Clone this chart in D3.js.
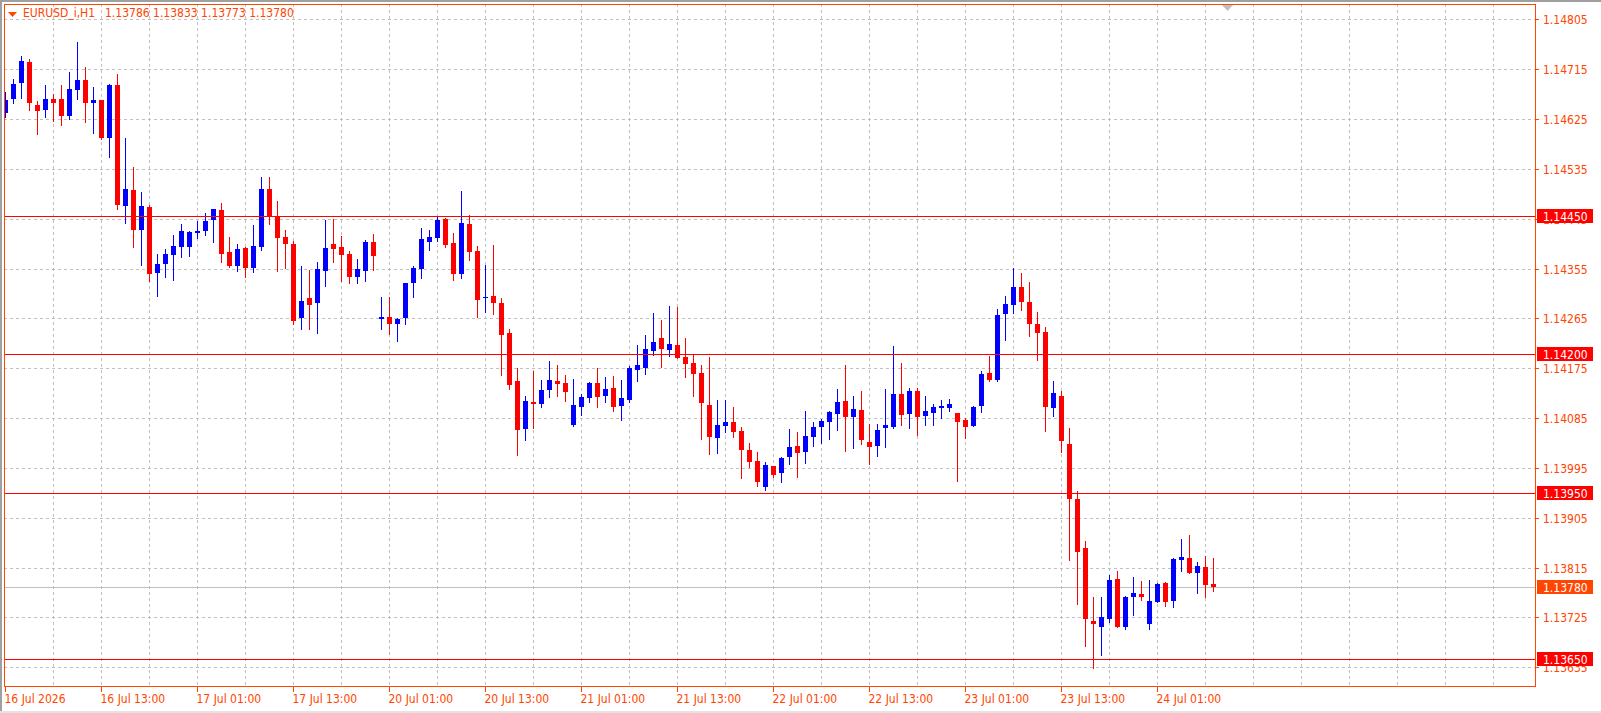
<!DOCTYPE html>
<html>
<head>
<meta charset="utf-8">
<script src="https://cdn.jsdelivr.net/npm/d3@7"></script>
<style>
  body { margin: 0; background: #fff; }
  text { font-family: "DejaVu Sans Condensed", "DejaVu Sans", sans-serif; font-size: 12px; }
</style>
</head>
<body>
<div id="chart"></div>
<script>
// EURUSD_i H1 bars, 16 Jul 01:00 .. 24 Jul 08:00
var opens = [
  1.14636, 1.14661, 1.14690, 1.14728, 1.14650, 1.14642, 1.14661, 1.14661, 1.14631, 1.14678,
  1.14695, 1.14653, 1.14659, 1.14591, 1.14686, 1.14468, 1.14497, 1.14425, 1.14466, 1.14347,
  1.14364, 1.14380, 1.14394, 1.14394, 1.14420, 1.14423, 1.14443, 1.14461, 1.14385, 1.14360,
  1.14392, 1.14356, 1.14394, 1.14499, 1.14450, 1.14412, 1.14400, 1.14266, 1.14302, 1.14293,
  1.14351, 1.14399, 1.14394, 1.14381, 1.14340, 1.14351, 1.14403, 1.14263, 1.14267, 1.14254,
  1.14266, 1.14328, 1.14355, 1.14403, 1.14411, 1.14444, 1.14401, 1.14346, 1.14435, 1.14387,
  1.14301, 1.14305, 1.14293, 1.14239, 1.14152, 1.14065, 1.14114, 1.14110, 1.14136, 1.14152,
  1.14148, 1.14072, 1.14105, 1.14121, 1.14148, 1.14125, 1.14139, 1.14107, 1.14118, 1.14172,
  1.14175, 1.14206, 1.14230, 1.14208, 1.14217, 1.14195, 1.14184, 1.14166, 1.14109, 1.14049,
  1.14071, 1.14078, 1.14062, 1.14027, 1.14007, 1.13961, 1.13998, 1.13986, 1.14015, 1.14035,
  1.14024, 1.14051, 1.14069, 1.14078, 1.14092, 1.14116, 1.14087, 1.14100, 1.14042, 1.14035,
  1.14067, 1.14069, 1.14128, 1.14092, 1.14134, 1.14089, 1.14094, 1.14103, 1.14103, 1.14094,
  1.14081, 1.14071, 1.14107, 1.14166, 1.14154, 1.14272, 1.14290, 1.14322, 1.14295, 1.14255,
  1.14240, 1.14104, 1.14125, 1.14038, 1.13939, 1.13850, 1.13719, 1.13708, 1.13723, 1.13794,
  1.13708, 1.13761, 1.13767, 1.13714, 1.13753, 1.13787, 1.13755, 1.13829, 1.13832, 1.13806,
  1.13816, 1.13786
];
var highs = [
  1.14674, 1.14697, 1.14739, 1.14733, 1.14658, 1.14686, 1.14670, 1.14686, 1.14709, 1.14764,
  1.14718, 1.14683, 1.14660, 1.14688, 1.14706, 1.14591, 1.14538, 1.14493, 1.14470, 1.14381,
  1.14390, 1.14416, 1.14435, 1.14423, 1.14441, 1.14455, 1.14463, 1.14473, 1.14412, 1.14400,
  1.14393, 1.14434, 1.14520, 1.14520, 1.14477, 1.14425, 1.14405, 1.14359, 1.14352, 1.14367,
  1.14443, 1.14444, 1.14414, 1.14387, 1.14372, 1.14406, 1.14417, 1.14304, 1.14304, 1.14266,
  1.14329, 1.14360, 1.14428, 1.14425, 1.14450, 1.14446, 1.14419, 1.14495, 1.14452, 1.14396,
  1.14361, 1.14397, 1.14302, 1.14246, 1.14175, 1.14125, 1.14170, 1.14154, 1.14188, 1.14181,
  1.14163, 1.14156, 1.14128, 1.14150, 1.14175, 1.14159, 1.14161, 1.14154, 1.14179, 1.14217,
  1.14235, 1.14275, 1.14262, 1.14287, 1.14286, 1.14230, 1.14199, 1.14181, 1.14195, 1.14118,
  1.14118, 1.14105, 1.14069, 1.14040, 1.14024, 1.14006, 1.13999, 1.14015, 1.14065, 1.14060,
  1.14098, 1.14078, 1.14083, 1.14097, 1.14137, 1.14181, 1.14125, 1.14134, 1.14074, 1.14074,
  1.14137, 1.14215, 1.14184, 1.14139, 1.14139, 1.14125, 1.14110, 1.14118, 1.14119, 1.14095,
  1.14085, 1.14107, 1.14170, 1.14197, 1.14282, 1.14305, 1.14356, 1.14347, 1.14331, 1.14276,
  1.14249, 1.14152, 1.14134, 1.14067, 1.13953, 1.13863, 1.13761, 1.13761, 1.13802, 1.13809,
  1.13764, 1.13798, 1.13791, 1.13793, 1.13787, 1.13789, 1.13832, 1.13867, 1.13874, 1.13825,
  1.13836, 1.13833
];
var lows = [
  1.14629, 1.14654, 1.14663, 1.14642, 1.14597, 1.14629, 1.14622, 1.14615, 1.14625, 1.14661,
  1.14620, 1.14600, 1.14588, 1.14557, 1.14463, 1.14438, 1.14393, 1.14362, 1.14333, 1.14306,
  1.14340, 1.14335, 1.14376, 1.14378, 1.14411, 1.14416, 1.14403, 1.14366, 1.14358, 1.14351,
  1.14340, 1.14349, 1.14389, 1.14436, 1.14351, 1.14356, 1.14255, 1.14245, 1.14245, 1.14239,
  1.14324, 1.14367, 1.14332, 1.14328, 1.14329, 1.14333, 1.14353, 1.14246, 1.14237, 1.14225,
  1.14255, 1.14304, 1.14338, 1.14389, 1.14405, 1.14393, 1.14335, 1.14338, 1.14371, 1.14268,
  1.14277, 1.14273, 1.14163, 1.14137, 1.14018, 1.14045, 1.14067, 1.14105, 1.14123, 1.14125,
  1.14116, 1.14071, 1.14091, 1.14114, 1.14105, 1.14114, 1.14098, 1.14081, 1.14114, 1.14152,
  1.14165, 1.14199, 1.14177, 1.14197, 1.14193, 1.14159, 1.14125, 1.14047, 1.14020, 1.14022,
  1.14060, 1.14051, 1.13977, 1.13997, 1.13962, 1.13955, 1.13979, 1.13970, 1.14002, 1.13979,
  1.14004, 1.14035, 1.14040, 1.14047, 1.14063, 1.14026, 1.14031, 1.14038, 1.14002, 1.14016,
  1.14033, 1.14067, 1.14072, 1.14067, 1.14054, 1.14072, 1.14072, 1.14085, 1.14098, 1.13971,
  1.14049, 1.14070, 1.14096, 1.14152, 1.14152, 1.14226, 1.14275, 1.14281, 1.14234, 1.14190,
  1.14062, 1.14089, 1.14024, 1.13829, 1.13750, 1.13674, 1.13634, 1.13658, 1.13717, 1.13708,
  1.13705, 1.13730, 1.13757, 1.13705, 1.13752, 1.13746, 1.13743, 1.13809, 1.13806, 1.13770,
  1.13761, 1.13773
];
var closes = [
  1.14659, 1.14688, 1.14730, 1.14653, 1.14640, 1.14661, 1.14654, 1.14631, 1.14679, 1.14695,
  1.14653, 1.14659, 1.14591, 1.14686, 1.14470, 1.14499, 1.14425, 1.14468, 1.14346, 1.14363,
  1.14381, 1.14396, 1.14423, 1.14421, 1.14423, 1.14441, 1.14462, 1.14382, 1.14360, 1.14390,
  1.14356, 1.14396, 1.14499, 1.14450, 1.14411, 1.14400, 1.14261, 1.14296, 1.14290, 1.14354,
  1.14392, 1.14391, 1.14380, 1.14340, 1.14354, 1.14403, 1.14378, 1.14267, 1.14254, 1.14264,
  1.14328, 1.14356, 1.14408, 1.14412, 1.14443, 1.14398, 1.14346, 1.14437, 1.14385, 1.14299,
  1.14304, 1.14293, 1.14235, 1.14145, 1.14063, 1.14116, 1.14110, 1.14136, 1.14154, 1.14146,
  1.14132, 1.14109, 1.14123, 1.14148, 1.14123, 1.14137, 1.14105, 1.14121, 1.14175, 1.14181,
  1.14210, 1.14222, 1.14210, 1.14219, 1.14193, 1.14183, 1.14165, 1.14112, 1.14051, 1.14072,
  1.14078, 1.14060, 1.14027, 1.14006, 1.13970, 1.14000, 1.13982, 1.14013, 1.14033, 1.14022,
  1.14053, 1.14069, 1.14080, 1.14096, 1.14114, 1.14087, 1.14101, 1.14045, 1.14033, 1.14063,
  1.14072, 1.14128, 1.14091, 1.14134, 1.14087, 1.14098, 1.14105, 1.14107, 1.14110, 1.14078,
  1.14069, 1.14105, 1.14165, 1.14154, 1.14271, 1.14291, 1.14322, 1.14295, 1.14254, 1.14239,
  1.14105, 1.14130, 1.14044, 1.13939, 1.13844, 1.13723, 1.13714, 1.13725, 1.13793, 1.13708,
  1.13762, 1.13769, 1.13761, 1.13755, 1.13785, 1.13753, 1.13831, 1.13834, 1.13806, 1.13818,
  1.13784, 1.13780
];

var priceTicks = [1.14805, 1.14715, 1.14625, 1.14535, 1.14445, 1.14355, 1.14265,
                  1.14175, 1.14085, 1.13995, 1.13905, 1.13815, 1.13725, 1.13635];
var levels = [1.14450, 1.14200, 1.13950, 1.13650];
var bidPrice = 1.13780;
var timeLabels = ["16 Jul 2026", "16 Jul 13:00", "17 Jul 01:00", "17 Jul 13:00", "20 Jul 01:00",
                  "20 Jul 13:00", "21 Jul 01:00", "21 Jul 13:00", "22 Jul 01:00", "22 Jul 13:00",
                  "23 Jul 01:00", "23 Jul 13:00", "24 Jul 01:00"];
var barsPerLabel = 12;
var barsPerGrid = 6;
var symbolName = "EURUSD_i,H1";

var svgWidth = 1601;
var svgHeight = 713;
var plot = {left: 4, top: 4, right: 1535, bottom: 687};

var fg = "#ff4500";
var bullColor = "#0000ff";
var bearColor = "#ff0000";
var gridColor = "#c0c0c0";

var svg = d3.select("#chart")
  .append("svg")
  .attr("width", svgWidth)
  .attr("height", svgHeight);

svg.append("rect")
  .attr("width", svgWidth)
  .attr("height", svgHeight)
  .attr("fill", "#fff");

// window edges
svg.append("rect").attr("x", 0).attr("y", 0).attr("width", svgWidth).attr("height", 2).attr("fill", "#a0a0a0");
svg.append("rect").attr("x", 0).attr("y", 0).attr("width", 2).attr("height", svgHeight).attr("fill", "#a0a0a0");
svg.append("rect").attr("x", 0).attr("y", 711).attr("width", svgWidth).attr("height", 2).attr("fill", "#e3e3e3");

// bar index -> x centre, 8px per bar
var xScale = d3.scaleLinear()
  .domain([0, opens.length - 1])
  .range([5.5, 5.5 + 8 * (opens.length - 1)]);

var yScale = d3.scaleLinear()
  .domain([1.135994, 1.148326])
  .range([plot.bottom, plot.top]);

function py(p) { return Math.round(yScale(p)) + 0.5; }

svg.append("clipPath")
  .attr("id", "plotclip")
  .append("rect")
  .attr("x", plot.left + 1)
  .attr("y", plot.top + 1)
  .attr("width", plot.right - plot.left - 1)
  .attr("height", plot.bottom - plot.top - 1);

var chartGroup = svg.append("g").attr("clip-path", "url(#plotclip)");

// grid
chartGroup.selectAll(".hgrid")
  .data(priceTicks)
  .enter()
  .append("line")
  .attr("x1", plot.left)
  .attr("x2", plot.right)
  .attr("y1", d => py(d))
  .attr("y2", d => py(d))
  .attr("stroke", gridColor)
  .attr("stroke-dasharray", "3,3");

var gridBars = d3.range(barsPerGrid, 32 * barsPerGrid, barsPerGrid);
chartGroup.selectAll(".vgrid")
  .data(gridBars)
  .enter()
  .append("line")
  .attr("x1", d => xScale(d))
  .attr("x2", d => xScale(d))
  .attr("y1", plot.top)
  .attr("y2", plot.bottom)
  .attr("stroke", gridColor)
  .attr("stroke-dasharray", "3,3");

// bid line
chartGroup.append("line")
  .attr("x1", plot.left)
  .attr("x2", plot.right)
  .attr("y1", py(bidPrice))
  .attr("y2", py(bidPrice))
  .attr("stroke", "#c0c0c0");

// candles
var candles = d3.range(opens.length).map(i => ({
  i: i, o: opens[i], h: highs[i], l: lows[i], c: closes[i]
}));

function candleColor(d) { return d.c >= d.o ? bullColor : bearColor; }

chartGroup.selectAll(".wick")
  .data(candles)
  .enter()
  .append("line")
  .attr("x1", d => xScale(d.i))
  .attr("x2", d => xScale(d.i))
  .attr("y1", d => Math.round(yScale(d.h)))
  .attr("y2", d => Math.round(yScale(d.l)) + 1)
  .attr("stroke", candleColor);

chartGroup.selectAll(".body")
  .data(candles)
  .enter()
  .append("rect")
  .attr("x", d => xScale(d.i) - 2.5)
  .attr("width", 5)
  .attr("y", d => Math.round(yScale(Math.max(d.o, d.c))))
  .attr("height", d => Math.max(1, Math.round(yScale(Math.min(d.o, d.c))) - Math.round(yScale(Math.max(d.o, d.c)))))
  .attr("fill", candleColor);

// horizontal levels
chartGroup.selectAll(".level")
  .data(levels)
  .enter()
  .append("line")
  .attr("x1", plot.left)
  .attr("x2", plot.right)
  .attr("y1", d => py(d))
  .attr("y2", d => py(d))
  .attr("stroke", "#ff0000");

// chart shift marker
svg.append("path")
  .attr("d", "M1222,5 L1233,5 L1227.5,11 Z")
  .attr("fill", "#c0c0c0");

// frame
svg.append("rect")
  .attr("x", plot.left + 0.5)
  .attr("y", plot.top + 0.5)
  .attr("width", plot.right - plot.left)
  .attr("height", plot.bottom - plot.top - 1)
  .attr("fill", "none")
  .attr("stroke", fg);

// price axis
svg.selectAll(".ptick")
  .data(priceTicks)
  .enter()
  .append("line")
  .attr("x1", plot.right)
  .attr("x2", plot.right + 4)
  .attr("y1", d => py(d))
  .attr("y2", d => py(d))
  .attr("stroke", fg);

svg.selectAll(".plabel")
  .data(priceTicks)
  .enter()
  .append("text")
  .attr("x", plot.right + 8)
  .attr("y", d => Math.round(yScale(d)) + 5)
  .attr("fill", fg)
  .text(d => d3.format(".5f")(d));

function priceTag(price, bg) {
  var yy = Math.round(yScale(price));
  svg.append("rect")
    .attr("x", plot.right + 2)
    .attr("y", yy - 7)
    .attr("width", 56)
    .attr("height", 14)
    .attr("fill", bg);
  svg.append("text")
    .attr("x", plot.right + 8)
    .attr("y", yy + 5)
    .attr("fill", "#fff")
    .text(d3.format(".5f")(price));
}
levels.forEach(p => priceTag(p, "#ff0000"));
priceTag(bidPrice, fg);

// time axis
var labelBars = timeLabels.map((t, k) => k * barsPerLabel);
svg.selectAll(".ttick")
  .data(labelBars)
  .enter()
  .append("line")
  .attr("x1", d => xScale(d))
  .attr("x2", d => xScale(d))
  .attr("y1", plot.bottom)
  .attr("y2", plot.bottom + 5)
  .attr("stroke", fg);

svg.selectAll(".tlabel")
  .data(timeLabels)
  .enter()
  .append("text")
  .attr("x", (d, k) => xScale(labelBars[k]) - 1)
  .attr("y", plot.bottom + 16)
  .attr("fill", fg)
  .text(d => d);

// title
svg.append("path")
  .attr("d", "M8,12 L17,12 L12.5,17 Z")
  .attr("fill", fg);
svg.append("text")
  .attr("x", 23)
  .attr("y", 17)
  .attr("fill", fg)
  .text(symbolName);
svg.append("text")
  .attr("x", 105)
  .attr("y", 17)
  .attr("fill", fg)
  .text([opens[opens.length - 1], highs[highs.length - 1], lows[lows.length - 1], closes[closes.length - 1]]
        .map(d3.format(".5f")).join(" "));
</script>
</body>
</html>
